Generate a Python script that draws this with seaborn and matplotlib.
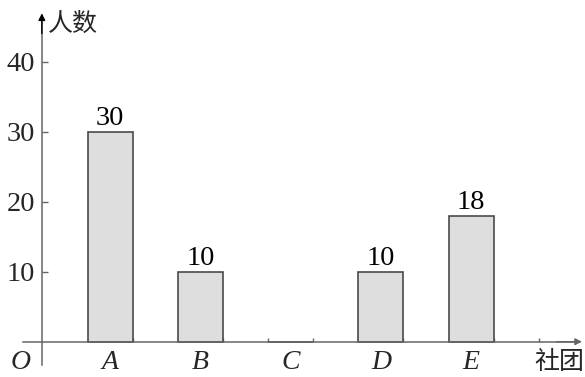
import matplotlib
matplotlib.use("Agg")
import matplotlib.pyplot as plt
import seaborn as sns

# data
clubs = ["A", "B", "C", "D", "E"]
counts = [30, 10, 0, 10, 18]
y_ticks = [10, 20, 30, 40]

sns.set_style("white")
plt.rcParams["font.family"] = ["Liberation Serif", "Noto Sans CJK SC"]

fig = plt.figure(figsize=(5.85, 3.77), dpi=100)
ax = fig.add_axes([0, 0, 1, 1])

sns.barplot(x=clubs, y=counts, width=0.5, color="#dedede",
            edgecolor="#4a4a4a", linewidth=1.2, saturation=1, ax=ax)

# value labels above bars (none for zero)
for i, v in enumerate(counts):
    if v > 0:
        ax.text(i, v + 1.0, str(v), ha="center", va="baseline",
                fontsize=20.5, color="black")

ax.set_xlim(-1.223, 5.263)
ax.set_ylim(-5.04, 48.8)

axis_col = "#666666"
y0x = -0.759
# spines as the two axes
for s in ["top", "right"]:
    ax.spines[s].set_visible(False)
ax.spines["left"].set_position(("data", y0x))
ax.spines["bottom"].set_position(("data", 0))
ax.spines["left"].set_bounds(-3.33, 46.5)
ax.spines["bottom"].set_bounds(-0.971, 5.18)
for s in ["left", "bottom"]:
    ax.spines[s].set_color(axis_col)
    ax.spines[s].set_linewidth(1.1)

# arrow heads
ax.annotate("", xy=(y0x, 46.9), xytext=(y0x, 44.0),
            arrowprops=dict(arrowstyle="-|>", color="black", lw=1.0,
                            mutation_scale=10, shrinkA=0, shrinkB=0))
ax.annotate("", xy=(5.23, 0), xytext=(4.95, 0),
            arrowprops=dict(arrowstyle="-|>", color=axis_col, lw=1.0,
                            mutation_scale=10, shrinkA=0, shrinkB=0))

# y ticks
ax.set_yticks(y_ticks)
ax.set_yticklabels([str(t) for t in y_ticks])
ax.tick_params(axis="y", direction="in", length=4, width=1, color=axis_col,
               labelsize=20.5, pad=5, left=True)

# x ticks: marks at bar edges, labels at centres
edges = []
for i in range(len(clubs)):
    edges += [i - 0.25, i + 0.25]
edges.append(len(clubs) - 1 + 0.75)
ax.set_xticks(edges)
ax.set_xticklabels([""] * len(edges))
ax.tick_params(axis="x", which="major", direction="in", length=3, width=1,
               color=axis_col, bottom=True)
ax.set_xticks(range(len(clubs)), minor=True)
ax.set_xticklabels(clubs, minor=True, fontsize=20, style="italic")
ax.tick_params(axis="x", which="minor", length=0, pad=6)
ax.set_xlabel("")
ax.set_ylabel("")

ax.text(-1.0, -2.9, "O", fontsize=20, style="italic", ha="center", va="center")
ax.text(-0.69, 45.4, "人数", fontsize=18, ha="left", va="center",
        family=["Noto Sans CJK SC", "DejaVu Sans"])
ax.text(4.70, -2.9, "社团", fontsize=18, ha="left", va="center",
        family=["Noto Sans CJK SC", "DejaVu Sans"])

fig.savefig("out.png", dpi=100)
